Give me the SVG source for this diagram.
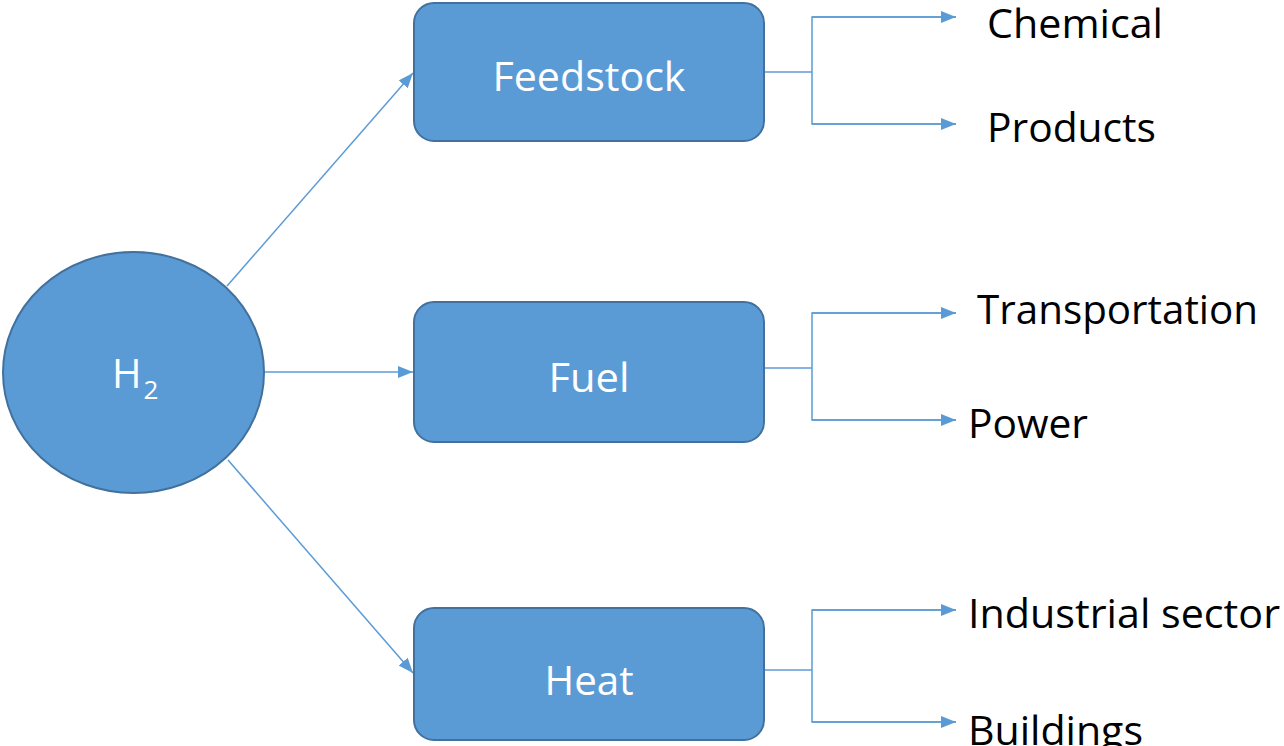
<svg xmlns="http://www.w3.org/2000/svg" width="1284" height="746" viewBox="0 0 1284 746">
  <style>
    .node { fill: #5B9BD5; stroke: #41719C; stroke-width: 2; }
    .label { font-family: "Open Sans", "Noto Sans", sans-serif; fill: #FFFFFF; font-size: 40px; }
    .out { font-family: "Open Sans", "Noto Sans", sans-serif; fill: #000000; font-size: 41px; }
    .link { fill: none; stroke: #5B9BD5; stroke-width: 1.5; }
  </style>
  <defs>
    <marker id="arrow" markerUnits="userSpaceOnUse" markerWidth="15" markerHeight="12" refX="15" refY="6" orient="auto">
      <path d="M0,0 L15,6 L0,12 z" fill="#5B9BD5"/>
    </marker>
  </defs>
  <rect width="1284" height="746" fill="#FFFFFF"/>

  <!-- connectors -->
  <g id="connectors">
    <line class="link" x1="227" y1="286" x2="413" y2="73" marker-end="url(#arrow)"/>
    <line class="link" x1="265" y1="372" x2="413" y2="372" marker-end="url(#arrow)"/>
    <line class="link" x1="228" y1="460" x2="413" y2="673" marker-end="url(#arrow)"/>

    <polyline class="link" points="764,72 812,72"/>
    <polyline class="link" points="956,17 812,17 812,124 956,124"/>
    <line class="link" x1="812" y1="17" x2="956" y2="17" marker-end="url(#arrow)"/>
    <line class="link" x1="812" y1="124" x2="956" y2="124" marker-end="url(#arrow)"/>

    <polyline class="link" points="764,368 812,368"/>
    <polyline class="link" points="956,313 812,313 812,420 956,420"/>
    <line class="link" x1="812" y1="313" x2="956" y2="313" marker-end="url(#arrow)"/>
    <line class="link" x1="812" y1="420" x2="956" y2="420" marker-end="url(#arrow)"/>

    <polyline class="link" points="764,670 812,670"/>
    <polyline class="link" points="956,610 812,610 812,722 956,722"/>
    <line class="link" x1="812" y1="610" x2="956" y2="610" marker-end="url(#arrow)"/>
    <line class="link" x1="812" y1="722" x2="956" y2="722" marker-end="url(#arrow)"/>
  </g>

  <!-- source -->
  <g id="h2">
    <ellipse class="node" cx="133.5" cy="372.5" rx="130.5" ry="120.5"/>
    <text class="label" x="112" y="388">H<tspan font-size="26px" dx="2" dy="11">2</tspan></text>
  </g>

  <!-- uses -->
  <g id="feedstock">
    <rect class="node" x="414" y="3" width="350" height="138" rx="20"/>
    <text class="label" x="589" y="91" text-anchor="middle" textLength="193" lengthAdjust="spacingAndGlyphs">Feedstock</text>
  </g>
  <g id="fuel">
    <rect class="node" x="414" y="302" width="350" height="140" rx="20"/>
    <text class="label" x="589" y="392" text-anchor="middle" textLength="81" lengthAdjust="spacingAndGlyphs">Fuel</text>
  </g>
  <g id="heat">
    <rect class="node" x="414" y="608" width="350" height="132" rx="20"/>
    <text class="label" x="589" y="695" text-anchor="middle" textLength="89" lengthAdjust="spacingAndGlyphs">Heat</text>
  </g>

  <!-- end uses -->
  <g id="chemical"><text class="out" x="987" y="38" textLength="176" lengthAdjust="spacingAndGlyphs">Chemical</text></g>
  <g id="products"><text class="out" x="987" y="142" textLength="169" lengthAdjust="spacingAndGlyphs">Products</text></g>
  <g id="transportation"><text class="out" x="977" y="324" textLength="281" lengthAdjust="spacingAndGlyphs">Transportation</text></g>
  <g id="power"><text class="out" x="968" y="438" textLength="120" lengthAdjust="spacingAndGlyphs">Power</text></g>
  <g id="industrial"><text class="out" x="968" y="628" textLength="312" lengthAdjust="spacingAndGlyphs">Industrial sector</text></g>
  <g id="buildings"><text class="out" x="968" y="745" textLength="175" lengthAdjust="spacingAndGlyphs">Buildings</text></g>
</svg>
